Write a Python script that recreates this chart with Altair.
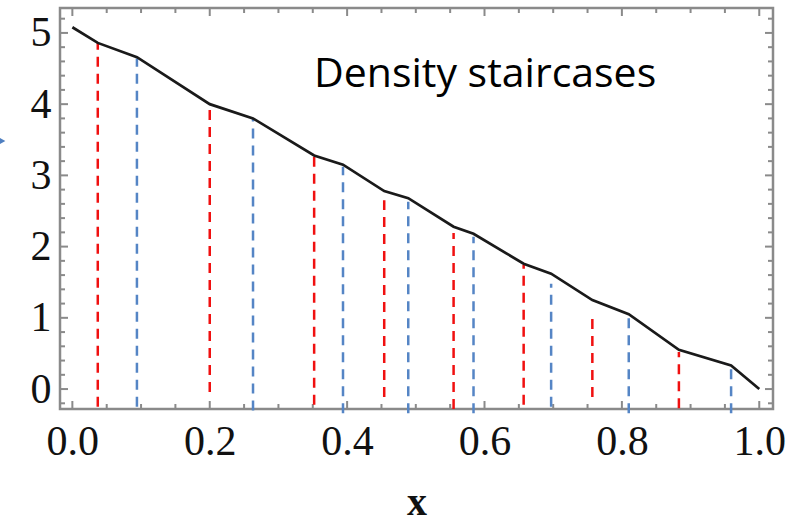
import altair as alt
import pandas as pd

# ---- data ----
curve_x = [0.0, 0.037, 0.094, 0.200, 0.263, 0.352, 0.394, 0.454, 0.489, 0.555,
           0.584, 0.657, 0.697, 0.757, 0.810, 0.883, 0.959, 1.0]
curve_y = [5.08, 4.86, 4.66, 4.00, 3.80, 3.28, 3.15, 2.78, 2.68, 2.28,
           2.18, 1.76, 1.62, 1.25, 1.05, 0.55, 0.33, 0.0]

red_x = [0.037, 0.200, 0.352, 0.454, 0.555, 0.657, 0.757, 0.883]
red_top = [4.86, 3.99, 3.26, 2.65, 2.19, 1.74, 1.06, 0.52]
red_bot = [-0.25, -0.04, -0.22, -0.11, -0.28, -0.22, -0.11, -0.27]

blue_x = [0.094, 0.263, 0.394, 0.489, 0.584, 0.697, 0.810, 0.959]
blue_top = [4.64, 3.80, 3.12, 2.63, 2.14, 1.48, 1.00, 0.29]
blue_bot = [-0.25, -0.30, -0.34, -0.34, -0.34, -0.25, -0.34, -0.34]

x_major = [0.0, 0.2, 0.4, 0.6, 0.8, 1.0]
x_minor = [0.05, 0.1, 0.15, 0.25, 0.3, 0.35, 0.45, 0.5, 0.55, 0.65, 0.7, 0.75, 0.85, 0.9, 0.95]
y_major = [0, 1, 2, 3, 4, 5]
y_minor = [-0.2, 0.2, 0.4, 0.6, 0.8, 1.2, 1.4, 1.6, 1.8, 2.2, 2.4, 2.6, 2.8,
           3.2, 3.4, 3.6, 3.8, 4.2, 4.4, 4.6, 4.8, 5.2]

label_text = ["Density staircases"]

# ---- layout ----
W, H = 713, 401
X_DOM = [-0.018, 1.020]
Y_DOM = [-0.28, 5.35]
FRAME = "#8a8a8a"
RED = "#f01010"
BLUE = "#5585c5"
MAJ, MIN = 8, 5

xs = alt.Scale(domain=X_DOM, nice=False, zero=False)
ys = alt.Scale(domain=Y_DOM, nice=False, zero=False)

curve_df = pd.DataFrame({"x": curve_x, "y": curve_y})
red_df = pd.DataFrame({"x": red_x, "top": red_top, "bot": red_bot})
blue_df = pd.DataFrame({"x": blue_x, "top": blue_top, "bot": blue_bot})

xaxis = alt.Axis(values=x_major, format=".1f", ticks=False, domain=False, grid=False,
                 labelFont="Liberation Serif", labelFontSize=42, labelColor="#111",
                 labelPadding=12, title="x", titleFont="Liberation Serif",
                 titleFontSize=40, titleFontWeight="bold", titleColor="#111",
                 titlePadding=20)
yaxis = alt.Axis(values=y_major, format="d", ticks=False, domain=False, grid=False,
                 labelFont="Liberation Serif", labelFontSize=42, labelColor="#111",
                 labelPadding=9, title=None)

base_line = alt.Chart(curve_df).mark_line(color="#1a1a1a", strokeWidth=2.7).encode(
    x=alt.X("x:Q", scale=xs, axis=xaxis),
    y=alt.Y("y:Q", scale=ys, axis=yaxis),
)

red_rules = alt.Chart(red_df).mark_rule(color=RED, strokeWidth=2.5, strokeDash=[10, 7]).encode(
    x=alt.X("x:Q", scale=xs), y=alt.Y("bot:Q", scale=ys), y2="top:Q")
blue_rules = alt.Chart(blue_df).mark_rule(color=BLUE, strokeWidth=2.5, strokeDash=[10, 7]).encode(
    x=alt.X("x:Q", scale=xs), y=alt.Y("bot:Q", scale=ys), y2="top:Q")


def xticks(vals, length):
    d = pd.DataFrame({"v": vals})
    bottom = alt.Chart(d).mark_rule(color=FRAME, strokeWidth=2).encode(
        x=alt.X("v:Q", scale=xs), y=alt.value(H), y2=alt.value(H - length))
    top = alt.Chart(d).mark_rule(color=FRAME, strokeWidth=2).encode(
        x=alt.X("v:Q", scale=xs), y=alt.value(0), y2=alt.value(length))
    return [bottom, top]


def yticks(vals, length):
    d = pd.DataFrame({"v": vals})
    left = alt.Chart(d).mark_rule(color=FRAME, strokeWidth=2).encode(
        y=alt.Y("v:Q", scale=ys), x=alt.value(0), x2=alt.value(length))
    right = alt.Chart(d).mark_rule(color=FRAME, strokeWidth=2).encode(
        y=alt.Y("v:Q", scale=ys), x=alt.value(W), x2=alt.value(W - length))
    return [left, right]


tick_layers = xticks(x_major, MAJ) + xticks(x_minor, MIN) + yticks(y_major, MAJ) + yticks(y_minor, MIN)

title_text = alt.Chart(pd.DataFrame({"t": label_text})).mark_text(
    align="left", baseline="alphabetic", font="Open Sans", fontSize=41, color="#000"
).encode(x=alt.value(254), y=alt.value(79), text="t:N")

arrow = alt.Chart(pd.DataFrame({"t": label_text})).mark_point(
    shape="triangle-right", filled=True, color="#4f7fc0", size=60, opacity=1
).encode(x=alt.value(-58), y=alt.value(133))

chart = alt.layer(*tick_layers, red_rules, blue_rules, base_line, title_text, arrow).properties(
    width=W, height=H,
    padding={"left": 60, "top": 8, "right": 16, "bottom": 113},
    autosize="none",
    background="white",
).configure_view(stroke=FRAME, strokeWidth=2.5)

chart.save("out.html", embed_options={"renderer": "svg", "actions": False})
